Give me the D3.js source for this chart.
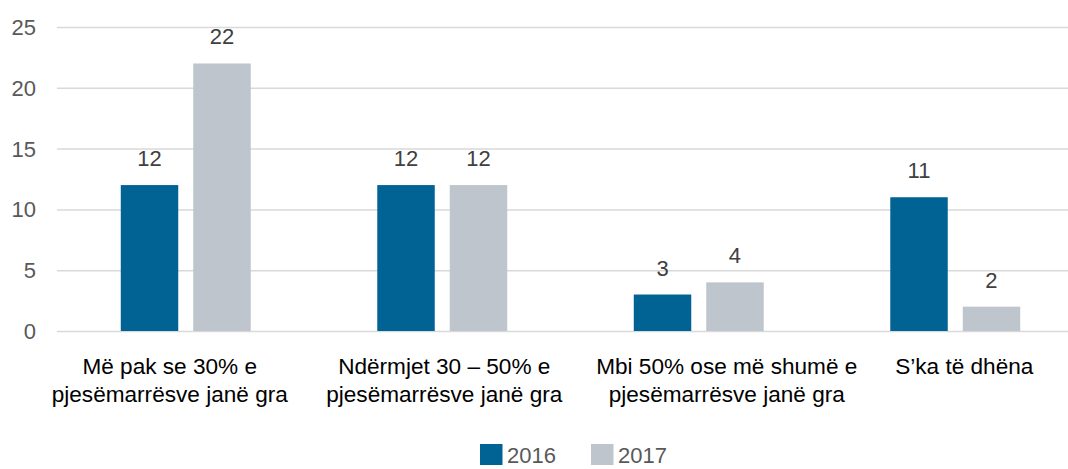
<!DOCTYPE html>
<html>
<head>
<meta charset="utf-8">
<script src="https://cdn.jsdelivr.net/npm/d3@7"></script>
<style>
  body { margin: 0; background: #fff; }
  svg { display: block; font-family: "Liberation Sans", Arial, sans-serif; }
</style>
</head>
<body>
<div id="chart"></div>
<script>
const categories = [
  ["Më pak se 30% e", "pjesëmarrësve janë gra"],
  ["Ndërmjet 30 – 50% e", "pjesëmarrësve janë gra"],
  ["Mbi 50% ose më shumë e", "pjesëmarrësve janë gra"],
  ["S’ka të dhëna"]
];
const seriesNames = ["2016", "2017"];
const values2016 = [12, 12, 3, 11];
const values2017 = [22, 12, 4, 2];
const yTicks = [0, 5, 10, 15, 20, 25];
const colors = ["#006394", "#bfc5cc"];

const width = 1068, height = 469;
// label nudges as seen in the original layout
const labelShift = [-16, 2, 28, 9];

const svg = d3.select("#chart").append("svg")
  .attr("width", width)
  .attr("height", height);

const catIdx = categories.map((c, i) => i);

let x0 = d3.scaleBand()
  .domain(catIdx)
  .range([57.5, 1083.5]);

let x1 = d3.scaleBand()
  .domain(seriesNames)
  .range([0, x0.bandwidth()])
  .paddingInner(0.207)
  .paddingOuter(0.873);

let y = d3.scaleLinear()
  .domain([0, 25])
  .range([331, 27]);

// gridlines
svg.append("g")
  .selectAll("line")
  .data(yTicks)
  .join("line")
  .attr("x1", 57)
  .attr("x2", width)
  .attr("y1", d => y(d) + 0.5)
  .attr("y2", d => y(d) + 0.5)
  .attr("stroke", "#d9d9d9")
  .attr("stroke-width", 1.5);

// y tick labels
svg.append("g")
  .selectAll("text")
  .data(yTicks)
  .join("text")
  .attr("x", 36)
  .attr("y", d => y(d) + 8)
  .attr("text-anchor", "end")
  .attr("fill", "#595959")
  .style("font-size", "22px")
  .text(d => d);

const series = [values2016, values2017];

series.forEach(function(vals, s) {
  let g = svg.append("g");

  g.selectAll("rect")
    .data(vals)
    .join("rect")
    .attr("x", (d, i) => x0(i) + x1(seriesNames[s]))
    .attr("y", d => y(d))
    .attr("width", x1.bandwidth())
    .attr("height", d => y(0) - y(d))
    .attr("fill", colors[s]);

  g.selectAll("text")
    .data(vals)
    .join("text")
    .attr("x", (d, i) => x0(i) + x1(seriesNames[s]) + x1.bandwidth() / 2)
    .attr("y", d => y(d) - 19)
    .attr("text-anchor", "middle")
    .attr("fill", "#404040")
    .style("font-size", "22px")
    .text(d => d);
});

// category labels
let cat = svg.append("g")
  .selectAll("text")
  .data(categories)
  .join("text")
  .attr("text-anchor", "middle")
  .attr("fill", "#000")
  .style("font-size", "22.6px");

cat.selectAll("tspan")
  .data((d, i) => d.map(t => ({ t: t, i: i })))
  .join("tspan")
  .attr("x", d => x0(d.i) + x0.bandwidth() / 2 + labelShift[d.i])
  .attr("y", (d, j) => 374 + j * 28)
  .text(d => d.t);

// legend
let legend = svg.append("g");
const legendX = [480, 591];

legend.selectAll("rect")
  .data(seriesNames)
  .join("rect")
  .attr("x", (d, i) => legendX[i])
  .attr("y", 444)
  .attr("width", 22.5)
  .attr("height", 21)
  .attr("fill", (d, i) => colors[i]);

legend.selectAll("text")
  .data(seriesNames)
  .join("text")
  .attr("x", (d, i) => legendX[i] + 27)
  .attr("y", 463)
  .attr("fill", "#595959")
  .style("font-size", "22px")
  .text(d => d);
</script>
</body>
</html>
